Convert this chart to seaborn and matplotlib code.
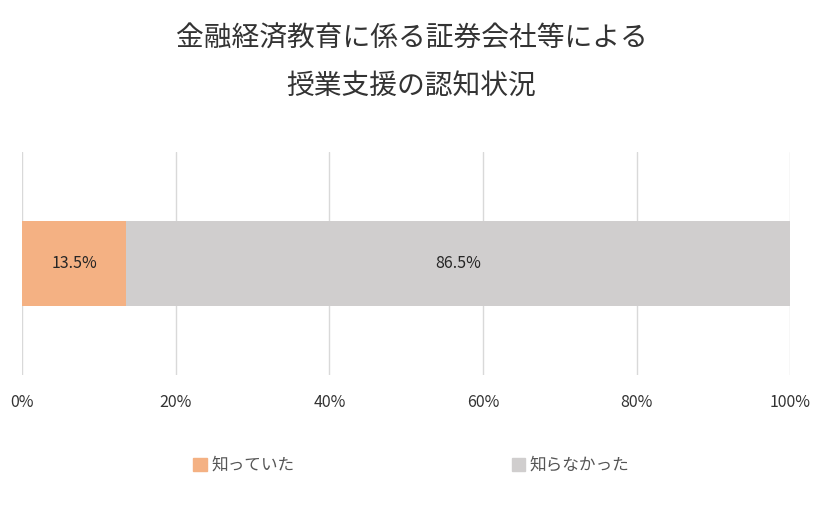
import matplotlib
matplotlib.use("Agg")
import matplotlib.pyplot as plt
import seaborn as sns
from matplotlib.patches import Patch

sns.set_style("white")
plt.rcParams['font.family'] = ['Noto Sans CJK JP', 'DejaVu Sans']

# data
labels = ["知っていた", "知らなかった"]
values = [13.5, 86.5]
colors = ["#F4B183", "#D0CECE"]
title = "金融経済教育に係る証券会社等による\n授業支援の認知状況"

fig = plt.figure(figsize=(8.23, 5.23), dpi=100)
ax = fig.add_axes([0.027, 0.283, 0.933, 0.426])

# stacked: draw cumulative totals back to front
cum = [sum(values[:i + 1]) for i in range(len(values))]
for total, c in reversed(list(zip(cum, colors))):
    sns.barplot(x=[total], y=[""], color=c, orient="h", width=0.77,
                saturation=1, linewidth=0, ax=ax)

start = 0
for v in values:
    ax.text(start + v / 2, 0, f"{v}%", ha="center", va="center", fontsize=11.5)
    start += v

ax.set_xlim(0, 100)
ax.set_ylim(1, -1)
ax.set_xticks(range(0, 101, 20))
ax.set_xticklabels([f"{t}%" for t in range(0, 101, 20)], fontsize=11.5, color="#333333")
ax.set_yticks([])
ax.tick_params(axis="x", length=0, pad=14)
ax.grid(axis="x", color="#D9D9D9", linewidth=1)
ax.set_axisbelow(True)
for s in ax.spines.values():
    s.set_visible(False)
ax.set_xlabel("")
ax.set_ylabel("")

fig.suptitle(title, y=0.955, fontsize=20, linespacing=1.75, color="#333333")

handles = [Patch(color=c, label=l) for l, c in zip(labels, colors)]
fig.legend(handles=handles, loc="center", bbox_to_anchor=(0.5, 0.11), ncol=2,
           frameon=False, fontsize=12, handlelength=0.8, handleheight=0.8,
           columnspacing=13, handletextpad=0.3, labelcolor="#555555")

fig.savefig("out.png", dpi=100)
